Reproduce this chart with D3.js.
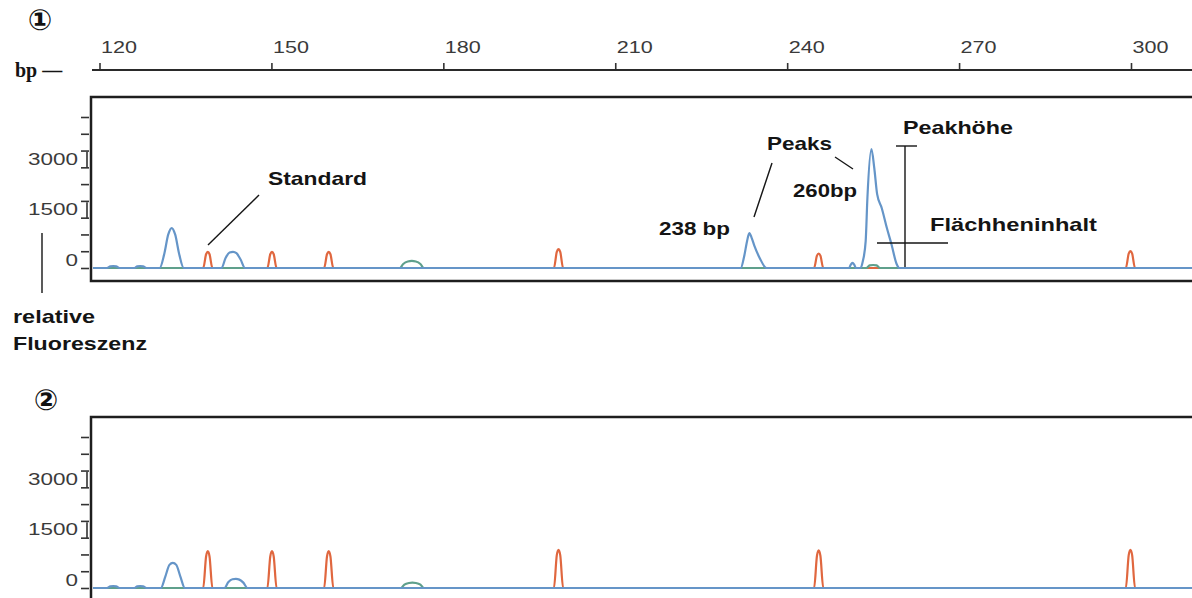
<!DOCTYPE html>
<html lang="de">
<head>
<meta charset="utf-8">
<title>Fragmentanalyse</title>
<script src="https://cdn.jsdelivr.net/npm/d3@7"></script>
<style>
	body{
		margin: 0px;
		overflow: hidden;
		background: #fff;
	}
	text{
		font-family: "Liberation Sans", Arial, sans-serif;
	}
	.tick text{
		font-size: 17px;
		fill: #3a3a3a;
	}
	.tick line{
		stroke: #333;
		stroke-width: 1.6;
	}
	.note{
		font-size: 19px;
		font-weight: bold;
		fill: #141414;
	}
	.trace{
		fill: none;
		stroke-width: 2.2;
		stroke-linejoin: round;
	}
	.frame{
		fill: none;
		stroke: #1e1e1e;
		stroke-width: 2.5;
	}
	.pointer{
		stroke: #151515;
		stroke-width: 1.4;
	}
</style>
</head>
<body>
<script>

// ruler (bp) and fluorescence ticks
const bpTicks = [120, 150, 180, 210, 240, 270, 300];
const rfuTicks = [0, 500, 1000, 1500, 2000, 2500, 3000, 3500, 4000, 4500];
const rfuLabels = [0, 1500, 3000];

// traces as [bp, relative fluorescence]
// panel 1 : sample with the 238 bp and 260 bp peaks
const blue1 = [
	[118.6, 0], [121.3, 0], [121.9, 50], [122.4, 60], [122.9, 50], [123.5, 0],
	[126.1, 0], [126.6, 50], [127.1, 60], [127.6, 50], [128.2, 0],
	[130.5, 0], [131.3, 420], [132.0, 1000], [132.6, 1190], [133.2, 1000], [133.9, 420], [134.7, 0],
	[141.3, 0], [142.0, 300], [142.7, 460], [143.3, 480], [143.9, 440], [144.6, 260], [145.4, 0],
	[231.9, 0], [232.5, 350], [233.0, 800], [233.4, 1040], [233.8, 900], [234.3, 650], [235.2, 300], [236.4, 0],
	[250.8, 0], [251.1, 100], [251.4, 150], [251.7, 100], [252.0, 0],
	[252.8, 0], [253.2, 200], [253.7, 800], [254.0, 2080], [254.7, 3540], [255.2, 2980], [255.7, 2200],
	[256.5, 1790], [257.4, 1190], [258.2, 710], [259.1, 120], [259.6, 0],
	[311, 0]
];
const red1 = [
	[118.6, 0],
	[138.1, 0], [138.6, 410], [138.9, 480], [139.2, 410], [139.7, 0],
	[149.3, 0], [149.8, 410], [150.1, 480], [150.4, 410], [150.9, 0],
	[159.2, 0], [159.7, 410], [160.0, 480], [160.3, 410], [160.8, 0],
	[199.3, 0], [199.8, 480], [200.1, 560], [200.4, 480], [200.9, 0],
	[244.7, 0], [245.2, 370], [245.5, 430], [245.8, 370], [246.3, 0],
	[299.1, 0], [299.6, 430], [299.9, 500], [300.2, 430], [300.7, 0],
	[311, 0]
];
const green1 = [
	[118.6, 0],
	[172.4, 0], [173.0, 120], [173.8, 195], [174.5, 210], [175.2, 195], [176.0, 120], [176.6, 0],
	[253.8, 0], [254.4, 80], [255.0, 90], [255.6, 80], [256.2, 0],
	[311, 0]
];

// panel 2 : reference without the peaks
const blue2 = [
	[118.6, 0], [121.3, 0], [121.9, 50], [122.4, 60], [122.9, 50], [123.5, 0],
	[126.1, 0], [126.6, 50], [127.1, 60], [127.6, 50], [128.2, 0],
	[130.7, 0], [131.5, 350], [132.2, 690], [132.8, 750], [133.4, 690], [134.1, 350], [134.9, 0],
	[141.8, 0], [142.5, 180], [143.2, 260], [143.8, 270], [144.4, 250], [145.1, 160], [145.8, 0],
	[311, 0]
];
const red2 = [
	[118.6, 0],
	[138.1, 0], [138.6, 940], [138.9, 1100], [139.2, 940], [139.7, 0],
	[149.3, 0], [149.8, 940], [150.1, 1100], [150.4, 940], [150.9, 0],
	[159.2, 0], [159.7, 940], [160.0, 1100], [160.3, 940], [160.8, 0],
	[199.3, 0], [199.8, 980], [200.1, 1140], [200.4, 980], [200.9, 0],
	[244.7, 0], [245.2, 960], [245.5, 1120], [245.8, 960], [246.3, 0],
	[299.1, 0], [299.6, 980], [299.9, 1140], [300.2, 980], [300.7, 0],
	[311, 0]
];
const green2 = [
	[118.6, 0],
	[172.6, 0], [173.2, 100], [174.0, 150], [174.6, 160], [175.2, 150], [176.0, 100], [176.6, 0],
	[311, 0]
];

const width = 1192;
const height = 598;

const xScale = d3.scaleLinear()
	.domain([120, 300])
	.range([99.5, 1131]);

const svg = d3.select("body")
	.append("svg")
	.attr("width", width)
	.attr("height", height);

// stretched text helper, the source lettering is wide
function wide(sel, len){
	return sel.attr("textLength", len).attr("lengthAdjust", "spacingAndGlyphs");
}

// top ruler
const rulerG = svg.append("g")
	.attr("transform", "translate(0,70)")
	.call(d3.axisTop(xScale).tickValues(bpTicks).tickSize(7).tickPadding(8));
rulerG.select(".domain").remove();
rulerG.selectAll(".tick text")
	.attr("text-anchor", "start")
	.attr("x", 1)
	.attr("y", -17)
	.attr("dy", 0)
	.call(wide, 36);
rulerG.append("line")
	.attr("x1", 92).attr("x2", width)
	.attr("y1", 0).attr("y2", 0)
	.attr("stroke", "#2a2a2a")
	.attr("stroke-width", 2);

svg.append("text")
	.attr("x", 15).attr("y", 77)
	.style("font-family", "'Liberation Serif', serif")
	.style("font-weight", "bold")
	.style("font-size", "20px")
	.attr("fill", "#141414")
	.text("bp \u2014");

const panels = [
	{ top: 97, bottom: 281, zero: 268, blue: blue1, red: red1, green: green1, mark: "\u2460", mx: 40, my: 20 },
	{ top: 417, bottom: 612, zero: 588, blue: blue2, red: red2, green: green2, mark: "\u2461", mx: 46, my: 400 }
];

const line = d3.line().curve(d3.curveMonotoneX);

panels.forEach((p, i) => {
	const yScale = d3.scaleLinear()
		.domain([0, 4500])
		.range([p.zero, p.zero - 151]);

	svg.append("text")
		.attr("x", p.mx).attr("y", p.my)
		.attr("text-anchor", "middle")
		.attr("dominant-baseline", "central")
		.style("font-family", "'DejaVu Sans', sans-serif")
		.style("font-weight", "bold")
		.style("font-size", "29px")
		.attr("fill", "#111")
		.text(p.mark);

	svg.append("clipPath")
		.attr("id", "clip" + i)
		.append("rect")
		.attr("x", 93).attr("y", p.top)
		.attr("width", width).attr("height", p.bottom - p.top);

	const g = svg.append("g").attr("clip-path", `url(#clip${i})`);

	line.x(d => xScale(d[0])).y(d => yScale(d[1]));

	g.append("path").attr("class", "trace").attr("stroke", "#e0673f").attr("d", line(p.red));
	g.append("path").attr("class", "trace").attr("stroke", "#5fa08c").attr("d", line(p.green));
	g.append("path").attr("class", "trace").attr("stroke", "#6595c8").attr("d", line(p.blue));

	svg.append("rect")
		.attr("class", "frame")
		.attr("x", 91).attr("y", p.top)
		.attr("width", width).attr("height", p.bottom - p.top);

	const yAxisG = svg.append("g")
		.attr("transform", "translate(89,0)")
		.call(d3.axisLeft(yScale)
			.tickValues(rfuTicks)
			.tickSize(8)
			.tickFormat(d => rfuLabels.includes(d) ? d : ""));
	yAxisG.select(".domain").remove();
	yAxisG.selectAll(".tick text")
		.attr("x", -11)
		.attr("y", -3)
		.attr("dy", 0)
		.each(function(d){
			if (rfuLabels.includes(d)) wide(d3.select(this), String(d).length * 12.5);
		});
	yAxisG.selectAll(".tick")
		.filter(d => rfuLabels.includes(d) && d > 0)
		.append("line")
		.attr("x1", -2).attr("x2", -2)
		.attr("y1", -16).attr("y2", 0)
		.attr("stroke", "#333")
		.attr("stroke-width", 1.6);
});

// annotations in panel 1
const notes = svg.append("g");
notes.append("line").attr("class", "pointer").attr("x1", 208).attr("y1", 245).attr("x2", 259).attr("y2", 195);
wide(notes.append("text").attr("class", "note").attr("x", 268).attr("y", 185).text("Standard"), 99);

wide(notes.append("text").attr("class", "note").attr("x", 767).attr("y", 150).text("Peaks"), 65);
notes.append("line").attr("class", "pointer").attr("x1", 772).attr("y1", 163).attr("x2", 754).attr("y2", 217);
notes.append("line").attr("class", "pointer").attr("x1", 835).attr("y1", 157).attr("x2", 853).attr("y2", 169);
wide(notes.append("text").attr("class", "note").attr("x", 793).attr("y", 197).text("260bp"), 64);
wide(notes.append("text").attr("class", "note").attr("x", 659).attr("y", 235).text("238 bp"), 71);

wide(notes.append("text").attr("class", "note").attr("x", 903).attr("y", 134).text("Peakh\u00f6he"), 110);
notes.append("line").attr("class", "pointer").attr("x1", 905).attr("y1", 146).attr("x2", 905).attr("y2", 267).attr("stroke-width", 2);
notes.append("line").attr("class", "pointer").attr("x1", 896).attr("y1", 146).attr("x2", 917).attr("y2", 146).attr("stroke-width", 2);

wide(notes.append("text").attr("class", "note").attr("x", 930).attr("y", 231).text("Fl\u00e4chheninhalt"), 167);
notes.append("line").attr("class", "pointer").attr("x1", 877).attr("y1", 243).attr("x2", 948).attr("y2", 243).attr("stroke-width", 2);

// axis caption on the left
notes.append("line").attr("class", "pointer").attr("x1", 42).attr("y1", 233).attr("x2", 42).attr("y2", 293).attr("stroke-width", 1.6);
wide(notes.append("text").attr("class", "note").attr("x", 13).attr("y", 323).text("relative"), 82);
wide(notes.append("text").attr("class", "note").attr("x", 13).attr("y", 350).text("Fluoreszenz"), 134);

</script>
</body>
</html>
